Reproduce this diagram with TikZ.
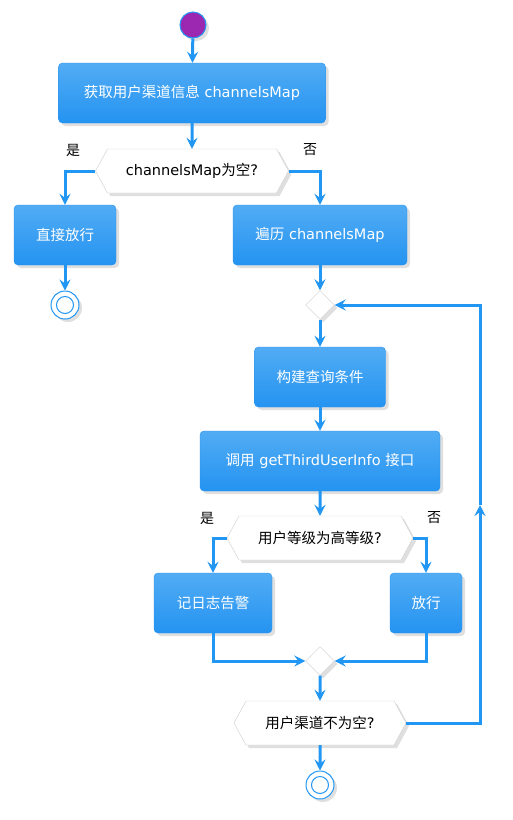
\documentclass[tikz,border=0pt]{standalone}
\usepackage{fontspec}
\setmainfont{DejaVu Sans}
\newfontfamily\cjk{Noto Sans CJK SC}
\usepackage{tikz}
\usetikzlibrary{arrows.meta,shapes.geometric,shapes.symbols,shadows}

\definecolor{flowblue}{RGB}{33,150,243}
\definecolor{boxtop}{RGB}{82,172,244}
\definecolor{boxbot}{RGB}{36,147,241}
\definecolor{hexline}{RGB}{205,205,205}
\definecolor{startfill}{RGB}{156,39,176}

\tikzset{
  act/.style={rounded corners=4pt,top color=boxtop,bottom color=boxbot,draw=boxbot,
    text=white,minimum height=60pt,font=\fontsize{14.5}{17}\selectfont,
    drop shadow={opacity=0.25,shadow xshift=3pt,shadow yshift=-3pt}},
  cond/.style={signal,signal to=west and east,signal pointer angle=123,draw=hexline,
    fill=white,minimum height=44pt,inner xsep=0pt,font=\fontsize{14.5}{17}\selectfont,
    drop shadow={opacity=0.25,shadow xshift=3pt,shadow yshift=-3pt}},
  merge/.style={diamond,draw=hexline,fill=white,minimum size=29pt,inner sep=0pt,
    drop shadow={opacity=0.25,shadow xshift=3pt,shadow yshift=-3pt}},
  flow/.style={draw=flowblue,line width=3pt,-{Stealth[length=11pt,width=11pt,inset=4pt]}},
  lbl/.style={font=\cjk\fontsize{14}{16}\selectfont}
}

\begin{document}
\begin{tikzpicture}[x=1pt,y=-1pt]
      \useasboundingbox (0,0) rectangle (513,820);
      \node[circle,fill=startfill,draw=flowblue,line width=1pt,minimum size=26pt,inner sep=0pt,
        drop shadow={opacity=0.25,shadow xshift=3pt,shadow yshift=-3pt}] (start) at (193,25) {};
      \node[act,minimum width=267pt] (fetch) at (192,93) {{\cjk 获取用户渠道信息} channelsMap};
      \node[cond,minimum width=193pt] (empty) at (192,171) {channelsMap{\cjk 为空}?};
      \node[act,minimum width=102pt] (direct) at (65,235) {\cjk 直接放行};
      \node[act,minimum width=174pt] (loop) at (320,235) {{\cjk 遍历} channelsMap};
      \node[circle,draw=flowblue,line width=1pt,fill=white,minimum size=28pt,inner sep=0pt,
        drop shadow={opacity=0.25,shadow xshift=3pt,shadow yshift=-3pt}] (stopA) at (65,305) {};
      \node[circle,draw=flowblue,line width=1pt,minimum size=17pt,inner sep=0pt] at (stopA) {};
      \node[merge] (join) at (320,305) {};
      \node[act,minimum width=131pt] (query) at (320,377) {\cjk 构建查询条件};
      \node[act,minimum width=240pt] (call) at (320,461) {{\cjk 调用} getThirdUserInfo {\cjk 接口}};
      \node[cond,minimum width=186pt] (level) at (320,538) {{\cjk 用户等级为高等级}?};
      \node[act,minimum width=118pt] (alarm) at (213,603) {\cjk 记日志告警};
      \node[act,minimum width=72pt] (pass) at (426,603) {\cjk 放行};
      \node[merge] (meet) at (320,661) {};
      \node[cond,minimum width=172pt] (more) at (320,723) {{\cjk 用户渠道不为空}?};
      \node[circle,draw=flowblue,line width=1pt,fill=white,minimum size=28pt,inner sep=0pt,
        drop shadow={opacity=0.25,shadow xshift=3pt,shadow yshift=-3pt}] (stopB) at (320,785) {};
      \node[circle,draw=flowblue,line width=1pt,minimum size=17pt,inner sep=0pt] at (stopB) {};
      \node[lbl] (yesA) at (73,150) {是};
      \node[lbl] (noA) at (310,150) {否};
      \node[lbl] (yesB) at (207,518) {是};
      \node[lbl] (noB) at (434,518) {否};
      \coordinate (backB) at (480,723);
      \coordinate (backM) at (480,505);
      \coordinate (backT) at (480,305);
      \draw[flow] (start) -- (fetch);
      \draw[flow] (fetch) -- (empty);
      \draw[flow] (empty.west) -| (direct);
      \draw[flow] (empty.east) -| (loop);
      \draw[flow] (direct) -- (stopA);
      \draw[flow] (loop) -- (join);
      \draw[flow] (join) -- (query);
      \draw[flow] (query) -- (call);
      \draw[flow] (call) -- (level);
      \draw[flow] (level.west) -| (alarm);
      \draw[flow] (level.east) -| (pass);
      \draw[flow] (alarm.south) |- (meet.west);
      \draw[flow] (pass.south) |- (meet.east);
      \draw[flow] (meet) -- (more);
      \draw[flow] (more) -- (stopB);
      \draw[flow] (more.east) -- (backB) -- (backM);
      \draw[flow] (backM) -- (backT) -- (join.east);
    \end{tikzpicture}
\end{document}
